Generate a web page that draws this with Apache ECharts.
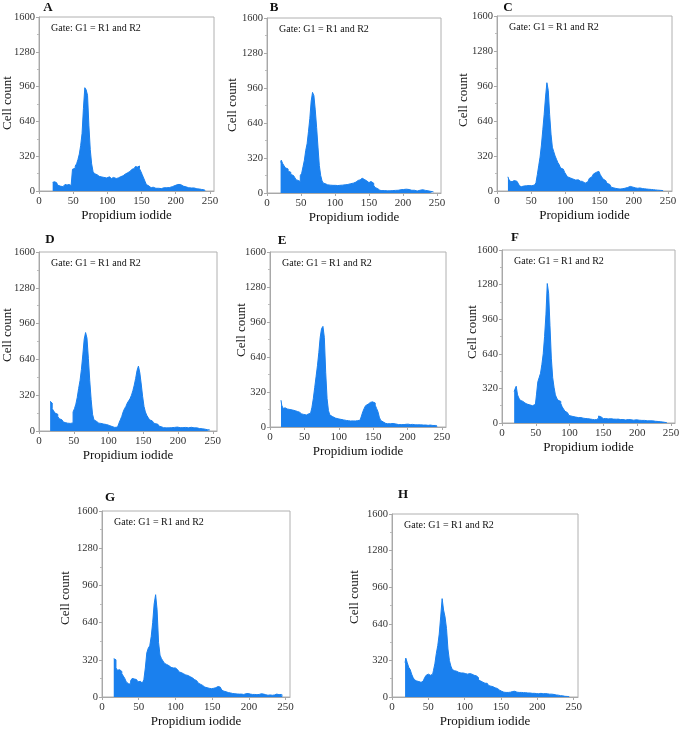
<!DOCTYPE html>
<html>
<head>
<meta charset="utf-8">
<script src="https://cdn.jsdelivr.net/npm/echarts@6/dist/echarts.min.js"></script>
<style>
html,body{margin:0;padding:0;background:#fff;}
#chart{width:687px;height:732px;}
</style>
</head>
<body>
<div id="chart"></div>
<script>
// ---- data ----
var panelLabels = ['A','B','C','D','E','F','G','H'];
var gateText = 'Gate: G1 = R1 and R2';
var xTitle = 'Propidium iodide';
var yTitle = 'Cell count';
var xTicks = [0, 50, 100, 150, 200, 250];
var yTicks = [0, 320, 640, 960, 1280, 1600];
var binWidth = 2;

var startA = 20;
var countsA = [80,85,70,75,55,45,50,40,55,60,60,55,60,50,40,200,210,230,250,290,340,420,530,760,950,930,880,600,380,250,180,160,150,140,135,130,135,125,130,120,125,130,120,115,125,120,115,125,120,130,135,140,150,155,165,170,180,195,200,205,210,225,220,230,205,180,150,120,90,60,45,35,30,35,30,25,30,25,28,22,25,30,28,30,35,32,38,40,45,50,55,60,68,60,55,45,40,38,35,30,32,28,25,28,22,20,22,18,15,14,12,10,6];

var startB = 20;
var countsB = [280,300,270,250,230,220,200,190,170,160,150,140,120,115,105,160,180,240,300,390,450,560,680,840,920,890,760,600,420,250,160,110,90,85,75,70,72,68,70,65,70,62,68,70,65,72,70,75,72,78,80,85,80,90,95,100,110,115,120,130,135,125,120,110,100,95,105,100,90,70,50,40,30,25,22,20,22,18,20,22,20,18,22,20,24,22,25,28,30,28,32,30,35,30,32,28,25,22,25,20,18,22,25,28,30,26,24,22,20,18,15,14,12,10];

var startC = 16;
var countsC = [130,110,90,85,95,100,90,100,70,45,40,45,50,48,52,50,55,48,50,55,60,75,150,230,310,420,560,700,860,990,920,700,520,400,360,320,290,260,240,210,200,185,170,150,130,120,115,110,105,100,98,102,95,90,88,80,72,70,85,100,115,130,140,155,170,175,180,165,150,130,110,95,80,70,60,45,35,30,25,22,20,20,18,20,22,25,28,32,38,42,38,35,30,28,26,25,28,24,22,22,20,20,18,16,15,14,12,10,10,8,7,6,5,4,3];

var startD = 16;
var countsD = [265,250,200,180,160,150,130,110,100,90,80,75,70,72,68,70,72,170,200,240,300,380,450,550,680,820,880,830,650,450,280,150,100,85,75,70,68,65,62,60,58,55,50,45,40,38,32,30,35,50,70,100,130,170,200,220,250,270,290,320,360,410,470,540,580,520,420,310,220,170,140,120,100,90,80,70,65,60,50,42,38,30,25,28,30,28,32,30,35,32,30,35,32,30,33,30,35,32,30,28,30,33,30,28,32,28,25,22,24,20,18,16,15,12,10,6];

var startE = 16;
var countsE = [245,200,170,175,165,170,160,165,155,150,148,140,142,135,125,120,115,112,110,118,120,125,140,180,260,360,460,560,680,820,900,920,820,500,260,150,110,95,90,82,78,75,72,70,68,65,62,60,60,58,55,55,56,54,55,58,60,62,75,100,140,170,195,210,220,225,230,228,220,200,170,140,90,60,45,38,34,30,32,30,28,32,30,28,25,22,20,22,20,22,24,25,24,26,22,24,22,20,22,20,18,20,22,18,20,18,16,15,18,16,14,15,14,12,10];

var startF = 18;
var countsF = [290,310,340,260,230,210,200,190,185,175,170,168,165,160,165,170,150,260,380,420,460,540,640,800,1000,1290,1200,900,600,420,330,260,230,210,200,180,150,130,110,95,80,70,65,60,58,55,52,50,48,50,45,45,42,44,40,38,36,35,33,32,30,32,45,65,55,45,40,42,40,38,42,40,38,36,38,35,34,36,32,30,32,30,28,30,32,28,30,28,26,28,30,28,26,25,24,26,24,22,20,22,20,18,20,18,16,15,14,15,12,10,8,6,5,3];

var startG = 16;
var countsG = [330,320,250,230,235,220,200,180,160,130,115,110,140,160,155,150,140,130,135,120,125,150,250,380,420,440,520,640,800,880,750,470,360,330,310,290,280,270,260,255,250,245,250,235,225,215,210,200,195,190,185,190,175,165,155,150,140,130,120,110,100,90,85,80,78,75,72,70,75,80,85,90,85,70,60,50,45,40,38,35,32,30,28,30,26,25,28,25,22,25,28,30,28,25,22,20,22,20,18,22,28,35,25,20,18,15,18,20,15,18,22,25,20,28,22,15];

var startH = 18;
var countsH = [300,340,300,260,240,200,170,150,140,135,130,128,140,155,170,190,200,190,180,200,230,290,380,450,550,700,860,760,700,600,420,320,270,240,230,225,220,215,210,215,210,205,210,200,205,195,200,190,195,185,170,150,140,130,125,120,120,110,100,95,90,85,80,75,70,60,50,45,42,40,42,40,42,45,48,50,45,42,40,42,40,38,36,38,35,34,35,32,30,32,30,30,28,32,30,28,30,26,28,25,24,25,22,20,18,16,15,12,10,8,6,5,4,3];

var starts = [startA,startB,startC,startD,startE,startF,startG,startH];
var counts = [countsA,countsB,countsC,countsD,countsE,countsF,countsG,countsH];

// ---- layout (pixel boxes) ----
var boxes = [
  {l:39, t:17, w:175, h:174},
  {l:267, t:18, w:174, h:175},
  {l:497, t:16, w:175, h:175},
  {l:39, t:252, w:178, h:179},
  {l:270, t:252, w:176, h:175},
  {l:502, t:250, w:173, h:173},
  {l:102, t:511, w:188, h:186},
  {l:392, t:514, w:186, h:183}
];
var letterPos = [[48,8],[274,8],[508,8],[50,240],[282,241],[515,238],[110,498],[403,495]];
var yNamePos = [[8,103],[233,105],[464,100],[8,335],[242,330],[473,332],[66,598],[355,597]];

var blue = '#1a80ee';
var serif = '"Liberation Serif","DejaVu Serif",serif';

var grids = [], xAxes = [], yAxes = [], series = [], graphics = [];
for (var i = 0; i < 8; i++) {
  var b = boxes[i];
  grids.push({left:b.l, top:b.t, width:b.w, height:b.h, show:true, borderColor:'#b0b0b0', borderWidth:1, backgroundColor:'#fff', containLabel:false});
  xAxes.push({
    type:'value', gridIndex:i, min:xTicks[0], max:256, interval:xTicks[1]-xTicks[0],
    axisLine:{show:true, onZero:false, lineStyle:{color:'#a8a8a8'}},
    axisTick:{show:true, length:3, lineStyle:{color:'#a8a8a8'}},
    splitLine:{show:false},
    axisLabel:{show:true, showMaxLabel:false, margin:5, color:'#333', fontFamily:serif, fontSize:11,
      formatter:function(v){return String(v);}},
    name:xTitle, nameLocation:'middle', nameGap:18,
    nameTextStyle:{color:'#111', fontFamily:serif, fontSize:13, verticalAlign:'top'}
  });
  yAxes.push({
    type:'value', gridIndex:i, min:yTicks[0], max:yTicks[yTicks.length-1], interval:yTicks[1]-yTicks[0],
    axisLine:{show:true, lineStyle:{color:'#a8a8a8'}},
    axisTick:{show:true, length:3, lineStyle:{color:'#a8a8a8'}},
    minorTick:{show:true, splitNumber:2, length:2, lineStyle:{color:'#bbb'}},
    splitLine:{show:false},
    axisLabel:{show:true, margin:4, color:'#333', fontFamily:serif, fontSize:10.5,
      formatter:function(v){return String(v);}}
  });
  var d = [];
  for (var k = 0; k < counts[i].length; k++) {
    d.push([starts[i] + k*binWidth, counts[i][k]]);
  }
  series.push({
    type:'line', xAxisIndex:i, yAxisIndex:i, data:d, step:'middle',
    showSymbol:false, symbol:'none', animation:false, silent:true,
    lineStyle:{color:blue, width:1}, areaStyle:{color:blue, opacity:1}
  });
  graphics.push({type:'text', left:b.l+12, top:b.t+6, z:100,
    style:{text:gateText, fill:'#111', font:'10px ' + serif}});
  graphics.push({type:'text', x:letterPos[i][0], y:letterPos[i][1], z:100,
    style:{text:panelLabels[i], fill:'#111', font:'bold 13px ' + serif, textAlign:'center', textVerticalAlign:'middle'}});
  graphics.push({type:'text', x:yNamePos[i][0], y:yNamePos[i][1], rotation:Math.PI/2, z:100,
    style:{text:yTitle, fill:'#111', font:'13px ' + serif, textAlign:'center', textVerticalAlign:'middle'}});
}

var chart = echarts.init(document.getElementById('chart'), null, {renderer:'canvas'});
chart.setOption({
  animation:false,
  backgroundColor:'#fff',
  grid:grids, xAxis:xAxes, yAxis:yAxes, series:series, graphic:graphics
});
</script>
</body>
</html>
